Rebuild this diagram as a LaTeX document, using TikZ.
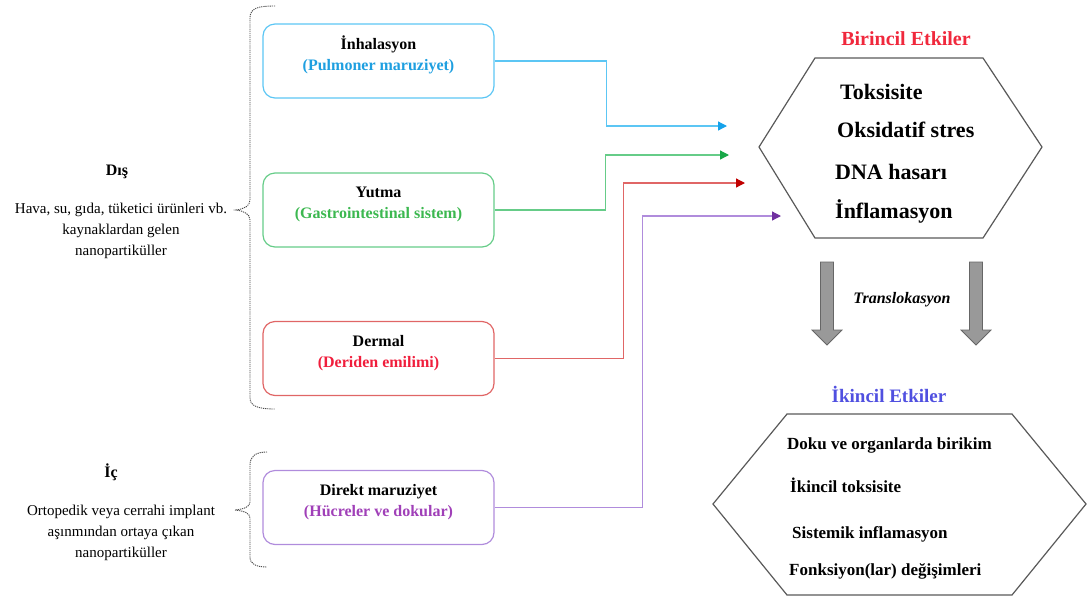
\documentclass[tikz,border=0pt]{standalone}
\usepackage{fontspec}
\setmainfont{Liberation Serif}
\usetikzlibrary{arrows.meta,positioning,calc}

\definecolor{inhline}{HTML}{5CC6F4}
\definecolor{inhtext}{HTML}{1E9FE0}
\definecolor{inhtip}{HTML}{16A2EA}
\definecolor{yutline}{HTML}{66CC88}
\definecolor{yuttext}{HTML}{3CB850}
\definecolor{yuttip}{HTML}{18A848}
\definecolor{derline}{HTML}{E06666}
\definecolor{dertext}{HTML}{F01E3C}
\definecolor{dertip}{HTML}{C00000}
\definecolor{dirline}{HTML}{B08CDC}
\definecolor{dirtext}{HTML}{A040B8}
\definecolor{dirtip}{HTML}{7030A0}
\definecolor{firstred}{HTML}{F0283C}
\definecolor{secondblue}{HTML}{5050E0}

\begin{document}
\begin{tikzpicture}[x = 1pt, y = -1pt, font = \fontsize{15}{21}\selectfont]
    \tikzset{
      route/.style = {draw, rounded corners = 12pt, line width = 1.2pt, minimum width = 231pt,
        minimum height = 74pt, align = center, text depth = 15pt, font = \fontsize{16}{21}\selectfont\bfseries},
      link/.style = {line width = 1.2pt, -{Triangle[length = 9pt, width = 9pt, color = #1]}},
      brace/.style = {draw = black!70, line width = 0.9pt, dash pattern = on 1.2pt off 0.9pt},
      origin/.style = {align = center},
      effect/.style = {anchor = base west, inner sep = 0pt, font = \fontsize{22}{26}\selectfont\bfseries},
      later/.style = {anchor = base west, inner sep = 0pt, font = \fontsize{17}{20}\selectfont\bfseries},
      heading/.style = {anchor = base, inner sep = 0pt, font = \fontsize{20}{24}\selectfont\bfseries},
      hexa/.style = {draw = black!65, line width = 1.2pt},
      bigarrow/.style = {fill = black!40, draw = black!60, line width = 0.8pt},
    }

    \useasboundingbox (0, 0) rectangle (1087, 598);

    % sources
    \node [anchor = base, font = \fontsize{16}{19}\selectfont\bfseries] (dis) at (117, 175) {Dış};
    \node [origin] (distext) at (121, 231) {Hava, su, gıda, tüketici ürünleri vb.\\ kaynaklardan gelen\\ nanopartiküller};
    \node [anchor = base, font = \fontsize{16}{19}\selectfont\bfseries] (ic) at (111, 477) {İç};
    \node [origin] (ictext) at (121, 533) {Ortopedik veya cerrahi implant\\ aşınmından ortaya çıkan\\ nanopartiküller};

    \draw [brace] (275, 6) .. controls (258, 6) and (250, 8) .. (250, 18) -- (250, 200)
      .. controls (250, 206) and (244, 209) .. (236, 210) .. controls (244, 211) and (250, 214) .. (250, 220)
      -- (250, 398) .. controls (250, 406) and (258, 409) .. (275, 409);
    \draw [brace] (267, 452) .. controls (256, 452) and (250, 456) .. (250, 465) -- (250, 502)
      .. controls (250, 507) and (244, 509) .. (235, 510) .. controls (244, 511) and (250, 513) .. (250, 518)
      -- (250, 557) .. controls (250, 564) and (256, 567) .. (267, 567);

    % exposure routes
    \node [route, draw = inhline] (inh) at (378.5, 61) {İnhalasyon\\ \textcolor{inhtext}{(Pulmoner maruziyet)}};
    \node [route, draw = yutline] (yut) at (378.5, 210) {Yutma\\ \textcolor{yuttext}{(Gastrointestinal sistem)}};
    \node [route, draw = derline] (der) at (378.5, 358.5) {Dermal\\ \textcolor{dertext}{(Deriden emilimi)}};
    \node [route, draw = dirline] (dir) at (378.5, 507.5) {Direkt maruziyet\\ \textcolor{dirtext}{(Hücreler ve dokular)}};

    \coordinate (inhend) at (727, 126);
    \coordinate (yutend) at (729, 155);
    \coordinate (derend) at (745, 183);
    \coordinate (dirend) at (781, 216);

    \draw [link = inhtip, inhline] (inh.east) -- ++(112, 0) |- (inhend);
    \draw [link = yuttip, yutline] (yut.east) -- ++(111, 0) |- (yutend);
    \draw [link = dertip, derline] (der.east) -- ++(129, 0) |- (derend);
    \draw [link = dirtip, dirline] (dir.east) -- ++(148, 0) |- (dirend);

    % primary effects
    \node [heading, text = firstred] (first) at (906, 45) {Birincil Etkiler};
    \draw [hexa] (815, 58) -- (983, 58) -- (1042, 147) -- (983, 238) -- (815, 238) -- (759, 147) -- cycle;
    \node [effect] (tox) at (840, 99) {Toksisite};
    \node [effect] (oks) at (837, 137) {Oksidatif stres};
    \node [effect] (dna) at (835, 179) {DNA hasarı};
    \node [effect] (infl) at (835, 218) {İnflamasyon};

    % translocation
    \foreach \cx in {827, 976}
      \draw [bigarrow] (\cx - 6.5, 262) -- (\cx + 6.5, 262) -- (\cx + 6.5, 330) -- (\cx + 15, 330)
        -- (\cx, 345) -- (\cx - 15, 330) -- (\cx - 6.5, 330) -- cycle;
    \node [anchor = base, font = \fontsize{16}{19}\selectfont\bfseries\itshape] (trans) at (902, 303) {Translokasyon};

    % secondary effects
    \node [heading, text = secondblue, font = \fontsize{19}{23}\selectfont\bfseries] (second) at (889, 402) {İkincil Etkiler};
    \draw [hexa] (787, 414) -- (1012, 414) -- (1086, 504) -- (1012, 595) -- (787, 595) -- (713, 504) -- cycle;
    \node [later] (doku) at (787, 449) {Doku ve organlarda birikim};
    \node [later] (iktox) at (790, 492) {İkincil toksisite};
    \node [later] (sist) at (792, 538) {Sistemik inflamasyon};
    \node [later] (fonk) at (789, 575) {Fonksiyon(lar) değişimleri};
  \end{tikzpicture}
\end{document}
